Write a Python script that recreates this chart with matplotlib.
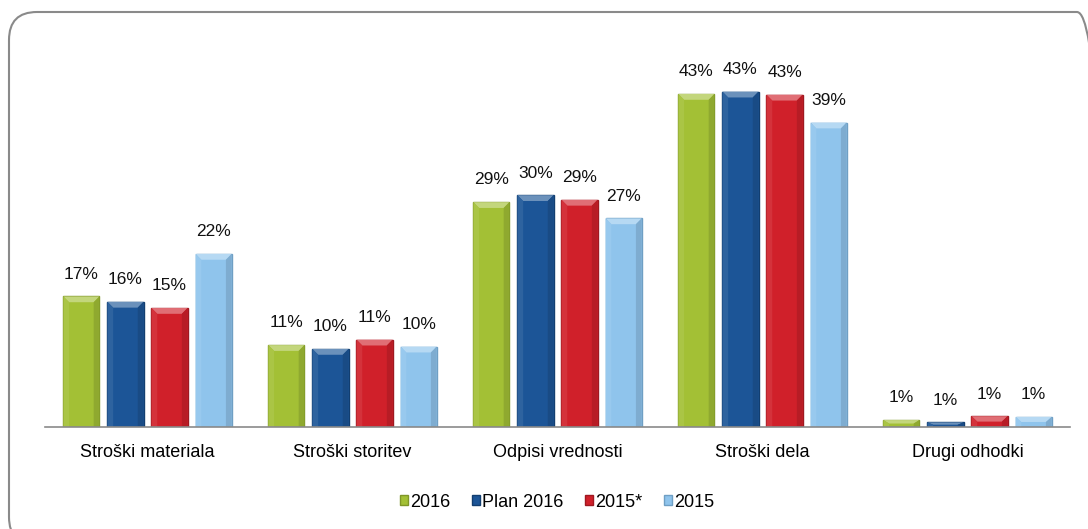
import matplotlib.pyplot as plt
import matplotlib.colors as mcolors
from matplotlib.patches import FancyBboxPatch, Patch, Polygon
import numpy as np

plt.rcParams['font.family'] = ['Liberation Sans', 'DejaVu Sans']

categories = ["Stroški materiala", "Stroški storitev", "Odpisi vrednosti", "Stroški dela", "Drugi odhodki"]
series = ["2016", "Plan 2016", "2015*", "2015"]
v2016 = [16.9, 10.6, 29.1, 43.1, 0.9]
vplan = [16.2, 10.1, 30.0, 43.4, 0.6]
v2015s = [15.4, 11.3, 29.4, 43.0, 1.4]
v2015 = [22.4, 10.4, 27.0, 39.4, 1.3]
values = [v2016, vplan, v2015s, v2015]

colors = ["#a3c035", "#1c5597", "#d0202a", "#8fc4ec"]
edges = ["#7f9628", "#123e70", "#9e1820", "#6f9fc4"]


def shade(c, f):
    rgb = np.array(mcolors.to_rgb(c))
    if f > 0:
        return tuple(rgb + (1 - rgb) * f)
    return tuple(rgb * (1 + f))


fig = plt.figure(figsize=(10.88, 5.29), dpi=100)

# background axes in pixel units for the rounded frame
bg = fig.add_axes([0, 0, 1, 1], zorder=-1)
bg.set_xlim(0, 1088)
bg.set_ylim(0, 529)
bg.axis("off")
bg.add_patch(FancyBboxPatch((9, -16), 1096, 533,
                            boxstyle="round,pad=0,rounding_size=28",
                            facecolor="none", edgecolor="#8a8a8a", linewidth=1.5))

ax = fig.add_axes([45 / 1088, 0.1928, 1025 / 1088, 0.6938])
ax.patch.set_alpha(0)

x = np.arange(len(categories))
step = 0.215
width = 0.176
bx, by = 0.028, 0.75
for i, (vals, c, e, name) in enumerate(zip(values, colors, edges, series)):
    pos = x + (i - 1.5) * step
    bars = ax.bar(pos, vals, width, color=c, edgecolor=e, linewidth=1, label=name, zorder=3)
    for b, v in zip(bars, vals):
        x0, x1 = b.get_x(), b.get_x() + b.get_width()
        dy = min(by, v / 2)
        # bevel: light top, slightly darker sides
        ax.add_patch(Polygon([(x0, v), (x1, v), (x1 - bx, v - dy), (x0 + bx, v - dy)],
                             closed=True, facecolor=shade(c, 0.35), edgecolor="none", zorder=4))
        ax.add_patch(Polygon([(x0, 0), (x0, v), (x0 + bx, v - dy), (x0 + bx, 0)],
                             closed=True, facecolor=shade(c, 0.08), edgecolor="none", zorder=4))
        ax.add_patch(Polygon([(x1, 0), (x1, v), (x1 - bx, v - dy), (x1 - bx, 0)],
                             closed=True, facecolor=shade(c, -0.12), edgecolor="none", zorder=4))
        ax.text((x0 + x1) / 2, v + 1.9, f"{v:.0f}%",
                ha="center", va="bottom", fontsize=12.5, color="#111111")

ax.set_xlim(-0.5, len(categories) - 0.5)
ax.set_ylim(0, 47.5)
ax.set_yticks([])
ax.set_xticks(x)
ax.set_xticklabels(categories, fontsize=13)
ax.tick_params(axis="x", length=0, pad=12)
for s in ["top", "right", "left"]:
    ax.spines[s].set_visible(False)
ax.spines["bottom"].set_color("#8a8a8a")
ax.spines["bottom"].set_linewidth(1.2)
ax.spines["bottom"].set_zorder(5)

handles = [Patch(facecolor=c, edgecolor=e) for c, e in zip(colors, edges)]
fig.legend(handles, series, loc="center", bbox_to_anchor=(0.512, 0.051), ncol=4,
           frameon=False, fontsize=13, handlelength=0.45, handleheight=0.45,
           handletextpad=0.1, columnspacing=1.2)

fig.savefig("out.png", dpi=100)
